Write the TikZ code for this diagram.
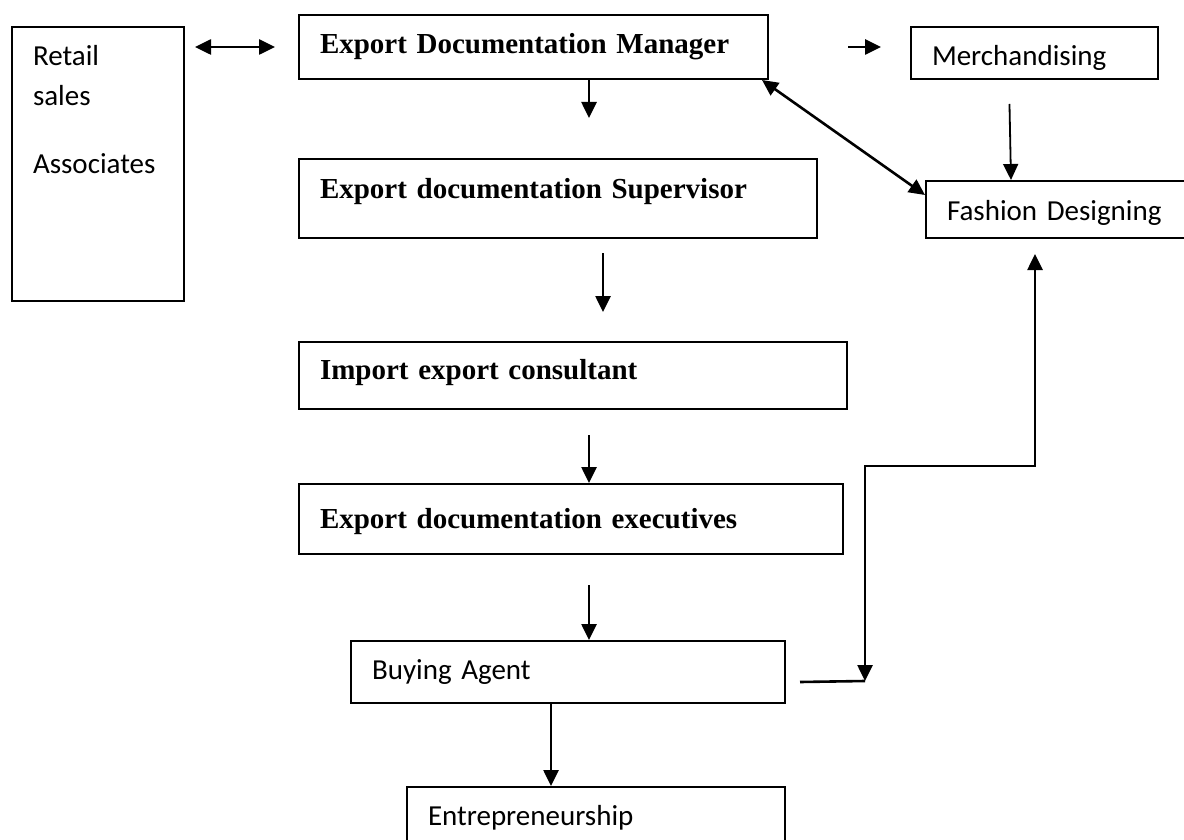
\documentclass[tikz,border=0pt]{standalone}
\usepackage{fontspec}
\setmainfont{Liberation Serif}
\newfontfamily\calibrifont{Carlito}
\usetikzlibrary{arrows.meta, positioning, calc}

\begin{document}
\begin{tikzpicture}[x=1pt, y=-1pt,
    boxbase/.style={draw, line width=2pt, anchor=north west, inner xsep=21pt, inner ysep=0pt, align=left},
    serifbox/.style={boxbase, font=\fontsize{29}{35}\selectfont\bfseries},
    sansbox/.style={boxbase, font=\fontsize{29}{40}\selectfont\calibrifont},
    link/.style={line width=2.6pt, -{Triangle[length=16pt, width=15pt]}},
    link2/.style={line width=2.6pt, {Triangle[length=16pt, width=15pt]}-{Triangle[length=16pt, width=15pt]}}]
    \useasboundingbox (0,0) rectangle (1184,840);

    % boxes
    \node[sansbox, text width=130pt, text height=39pt, text depth=235pt] (retail) at (11,26) {Retail\\sales\\[28pt]Associates};
    \node[serifbox, text width=427pt, text height=39pt, text depth=25pt] (manager) at (298,14) {Export Documentation Manager};
    \node[sansbox, text width=205pt, text height=39pt, text depth=13pt] (merch) at (910,26) {Merchandising};
    \node[serifbox, text width=476pt, text height=39pt, text depth=40pt] (supervisor) at (298,158) {Export documentation Supervisor};
    \node[sansbox, text width=223pt, text height=39pt, text depth=18pt] (fashion) at (925,180) {Fashion Designing};
    \node[serifbox, text width=506pt, text height=37pt, text depth=30pt] (import) at (298,341) {Import export consultant};
    \node[serifbox, text width=502pt, text height=44pt, text depth=26pt] (exec) at (298,483) {Export documentation executives};
    \node[sansbox, text width=392pt, text height=38pt, text depth=24pt] (buying) at (350,640) {Buying Agent};
    \node[sansbox, text width=336pt, text height=38pt, text depth=30pt] (entre) at (406,786) {Entrepreneurship};

    \coordinate (mainline) at (589,0);
    \coordinate (supline) at (603,0);
    \coordinate (buyline) at (551,0);
    \coordinate (riseline) at (1035,0);
    \coordinate (elbow) at (865,681);
    \coordinate (turn) at (865,466);

    % connectors
    \draw[link2, shorten <=10pt, shorten >=23pt] (retail.east |- manager.west) -- (manager.west);
    \draw[link, shorten <=79pt, shorten >=29pt] (manager.east) -- (merch.west |- manager.east);
    \draw[link, shorten >=40pt] (manager.south -| mainline) -- (supervisor.north -| mainline);
    \draw[link, shorten <=14pt, shorten >=29pt] (supervisor.south -| supline) -- (import.north -| supline);
    \draw[link, shorten <=25pt] (import.south -| mainline) -- (exec.north -| mainline);
    \draw[link, shorten <=30pt] (exec.south -| mainline) -- (buying.north -| mainline);
    \draw[link] (buying.south -| buyline) -- (entre.north -| buyline);
    \draw[link, line width=1.8pt, shorten <=24pt] ([xshift=99pt]merch.south west) -- ([xshift=86pt]fashion.north west);
    \draw[link2] ([xshift=-7pt]manager.south east) -- ([yshift=-15pt]fashion.north west);
    \draw[line width=2.6pt] ([xshift=14pt, yshift=-10pt]buying.east) -- (elbow);
    \draw[link2, shorten >=15pt] (elbow) -- (turn) -| (fashion.south -| riseline);
\end{tikzpicture}
\end{document}
